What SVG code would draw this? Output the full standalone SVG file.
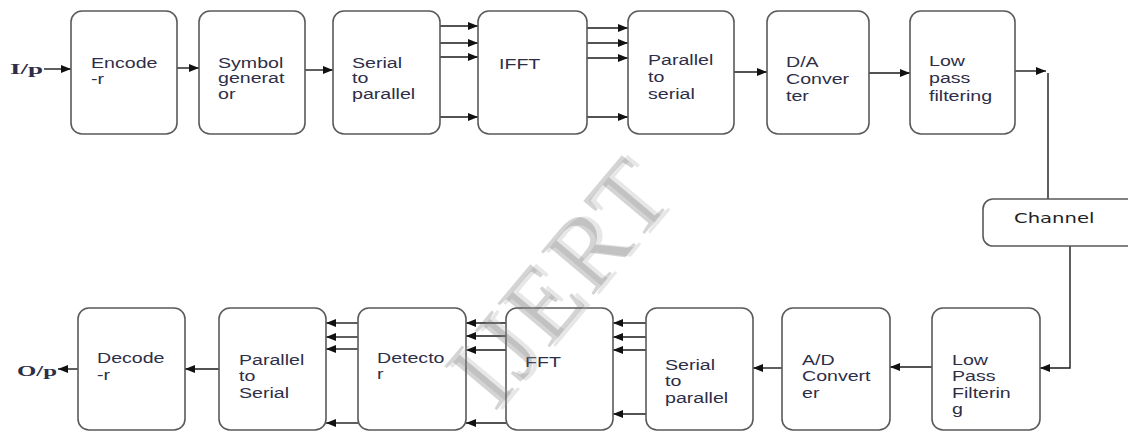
<svg xmlns="http://www.w3.org/2000/svg" width="1128" height="433" viewBox="0 0 1128 433">
<style>
.box{fill:#fff;stroke:#5a5a5a;stroke-width:1.6}
.lbl{font-family:"Liberation Sans",Arial,sans-serif;font-size:14px;fill:#2e2e48}
.io{font-family:"Liberation Serif","Times New Roman",serif;font-size:15px;font-weight:bold;fill:#2e2e48}
.ch{font-family:"DejaVu Sans",Verdana,sans-serif;font-size:14px;fill:#222}
.c{fill:none;stroke:#1a1a1a;stroke-width:1.4}
.a{marker-end:url(#ah)}
.wm{font-family:"Liberation Serif","Times New Roman",serif;font-size:104px}
</style>
<defs>
<marker id="ah" markerUnits="userSpaceOnUse" markerWidth="11" markerHeight="8" refX="10" refY="4" orient="auto">
<path d="M0,0 L10,4 L0,8 z" fill="#111"/>
</marker>
</defs>
<rect width="1128" height="433" fill="#fff"/>

<g id="connectors">
<path class="c a" d="M44,69 H71"/>
<path class="c a" d="M177,68 H199"/>
<path class="c a" d="M305,70 H333"/>
<path class="c a" d="M440,26 H478"/>
<path class="c a" d="M440,43 H478"/>
<path class="c a" d="M440,57 H478"/>
<path class="c a" d="M440,117 H478"/>
<path class="c a" d="M587,28 H628"/>
<path class="c a" d="M587,43 H628"/>
<path class="c a" d="M587,58 H628"/>
<path class="c a" d="M587,117 H628"/>
<path class="c a" d="M734,72 H767"/>
<path class="c a" d="M869,73 H910"/>
<path class="c a" d="M1015,71 H1046"/>
<path class="c" d="M1048,73 V199"/>
<path class="c a" d="M1070,246 V368 H1040"/>
<path class="c a" d="M932,367 H890"/>
<path class="c a" d="M782,368 H753"/>
<path class="c a" d="M646,323 H613"/>
<path class="c a" d="M646,337 H613"/>
<path class="c a" d="M646,350 H613"/>
<path class="c a" d="M646,414 H613"/>
<path class="c a" d="M506,323 H466"/>
<path class="c a" d="M506,336 H466"/>
<path class="c a" d="M506,350 H466"/>
<path class="c a" d="M506,423 H466"/>
<path class="c a" d="M358,323 H326"/>
<path class="c a" d="M358,337 H326"/>
<path class="c a" d="M358,349 H326"/>
<path class="c a" d="M358,423 H326"/>
<path class="c a" d="M219,369 H185"/>
<path class="c a" d="M78,369 H58"/>
</g>

<g id="input"><text class="io" x="10" y="74" textLength="33" lengthAdjust="spacingAndGlyphs">I/p</text></g>
<g id="output"><text class="io" x="17" y="376" textLength="40" lengthAdjust="spacingAndGlyphs">O/p</text></g>

<g id="encoder"><rect class="box" x="71" y="11" width="106" height="123" rx="11"/>
<text class="lbl" transform="translate(91 68) scale(1.4 1)"><tspan x="0" y="0">Encode</tspan><tspan x="0" y="16">-r</tspan></text></g>

<g id="symbol-generator"><rect class="box" x="199" y="11" width="106" height="123" rx="11"/>
<text class="lbl" transform="translate(218 68) scale(1.4 1)"><tspan x="0" y="0">Symbol</tspan><tspan x="0" y="15.5">generat</tspan><tspan x="0" y="31">or</tspan></text></g>

<g id="serial-to-parallel-tx"><rect class="box" x="333" y="11" width="107" height="123" rx="11"/>
<text class="lbl" transform="translate(352 68) scale(1.4 1)"><tspan x="0" y="0">Serial</tspan><tspan x="0" y="15.5">to</tspan><tspan x="0" y="31">parallel</tspan></text></g>

<g id="ifft"><rect class="box" x="478" y="11" width="109" height="123" rx="11"/>
<text class="lbl" transform="translate(499 69) scale(1.4 1)"><tspan x="0" y="0">IFFT</tspan></text></g>

<g id="parallel-to-serial-tx"><rect class="box" x="628" y="11" width="106" height="123" rx="11"/>
<text class="lbl" transform="translate(648 65) scale(1.4 1)"><tspan x="0" y="0">Parallel</tspan><tspan x="0" y="17">to</tspan><tspan x="0" y="34">serial</tspan></text></g>

<g id="da-converter"><rect class="box" x="767" y="11" width="102" height="123" rx="11"/>
<text class="lbl" transform="translate(786 67) scale(1.4 1)"><tspan x="0" y="0">D/A</tspan><tspan x="0" y="17">Conver</tspan><tspan x="0" y="34">ter</tspan></text></g>

<g id="low-pass-tx"><rect class="box" x="910" y="11" width="105" height="123" rx="11"/>
<text class="lbl" transform="translate(929 66) scale(1.4 1)"><tspan x="0" y="0">Low</tspan><tspan x="0" y="17.5">pass</tspan><tspan x="0" y="35">filtering</tspan></text></g>

<g id="channel"><rect class="box" x="983" y="199" width="170" height="47" rx="10"/>
<text class="ch" transform="translate(1014 223) scale(1.4 1)">Channel</text></g>

<g id="low-pass-rx"><rect class="box" x="932" y="308" width="108" height="122" rx="11"/>
<text class="lbl" transform="translate(952 365) scale(1.4 1)"><tspan x="0" y="0">Low</tspan><tspan x="0" y="16.5">Pass</tspan><tspan x="0" y="33">Filterin</tspan><tspan x="0" y="49.5">g</tspan></text></g>

<g id="ad-converter"><rect class="box" x="782" y="308" width="108" height="122" rx="11"/>
<text class="lbl" transform="translate(802 365) scale(1.4 1)"><tspan x="0" y="0">A/D</tspan><tspan x="0" y="16.5">Convert</tspan><tspan x="0" y="33">er</tspan></text></g>

<g id="serial-to-parallel-rx"><rect class="box" x="646" y="308" width="107" height="122" rx="11"/>
<text class="lbl" transform="translate(665 370) scale(1.4 1)"><tspan x="0" y="0">Serial</tspan><tspan x="0" y="16.5">to</tspan><tspan x="0" y="33">parallel</tspan></text></g>

<g id="fft"><rect class="box" x="506" y="308" width="107" height="122" rx="11"/>
<text class="lbl" transform="translate(525 367) scale(1.4 1)"><tspan x="0" y="0">FFT</tspan></text></g>

<g id="detector"><rect class="box" x="358" y="308" width="108" height="122" rx="11"/>
<text class="lbl" transform="translate(377 363) scale(1.4 1)"><tspan x="0" y="0">Detecto</tspan><tspan x="0" y="16.5">r</tspan></text></g>

<g id="parallel-to-serial-rx"><rect class="box" x="219" y="308" width="107" height="122" rx="11"/>
<text class="lbl" transform="translate(239 365) scale(1.4 1)"><tspan x="0" y="0">Parallel</tspan><tspan x="0" y="16.5">to</tspan><tspan x="0" y="33">Serial</tspan></text></g>

<g id="decoder"><rect class="box" x="78" y="308" width="107" height="122" rx="11"/>
<text class="lbl" transform="translate(97 363) scale(1.4 1)"><tspan x="0" y="0">Decode</tspan><tspan x="0" y="17">-r</tspan></text></g>

<g id="watermark" transform="translate(560 282) rotate(-50)" fill-opacity="0.28">
<text class="wm" x="4" y="38" text-anchor="middle" fill="#aaaaaa" letter-spacing="4">IJERT</text>
<text class="wm" x="0" y="34" text-anchor="middle" fill="#666666" letter-spacing="4">IJERT</text>
</g>
</svg>
